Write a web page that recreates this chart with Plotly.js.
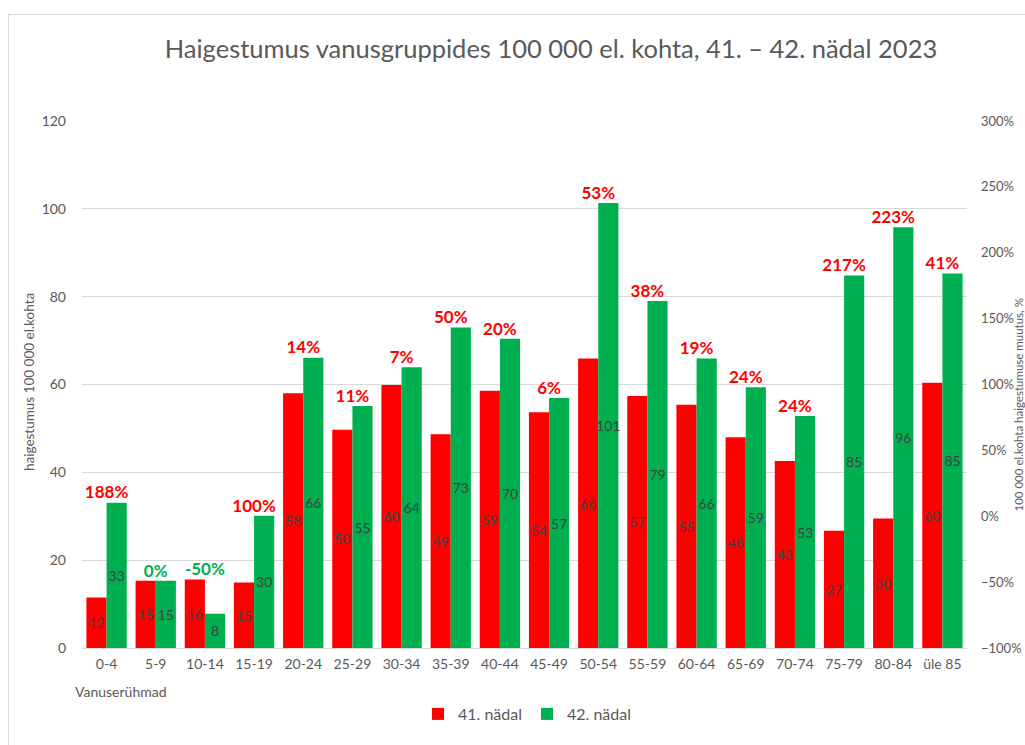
<!DOCTYPE html>
<html><head><meta charset="utf-8">
<script src="https://cdn.plot.ly/plotly-3.0.1.min.js"></script>
<style>
html,body{margin:0;padding:0;overflow:hidden;background:#fff;}
#frame{position:absolute;left:8px;top:14px;width:1200px;height:900px;border:1px solid #d9d9d9;}
#chart{position:absolute;left:0;top:0;width:1025px;height:745px;}
</style></head><body>
<div id="frame"></div>
<div id="chart"></div>
<script>
const ageGroups = ["0-4","5-9","10-14","15-19","20-24","25-29","30-34","35-39","40-44","45-49","50-54","55-59","60-64","65-69","70-74","75-79","80-84","üle 85"];
const week41 = [11.5, 15.3, 15.6, 14.9, 58.0, 49.7, 59.9, 48.7, 58.6, 53.7, 65.9, 57.4, 55.4, 48.0, 42.6, 26.7, 29.5, 60.4];
const week42 = [33.1, 15.3, 7.8, 30.1, 66.1, 55.1, 63.9, 73.0, 70.4, 56.9, 101.3, 79.0, 65.9, 59.4, 52.8, 84.8, 95.8, 85.3];
const changePct = [188, 0, -50, 100, 14, 11, 7, 50, 20, 6, 53, 38, 19, 24, 24, 217, 223, 41];
const seriesNames = ["41. nädal", "42. nädal"];

const RED = "#FF0000", GREEN = "#00B050", GREY = "#595959";
const FONT = "Lato, 'Open Sans', sans-serif";

const topOfGroup = week41.map((v, i) => Math.max(v, week42[i]));
const pctText = changePct.map(p => p + "%");
const pctColor = changePct.map(p => p > 0 ? RED : GREEN);

const barCommon = {
  type: "bar",
  x: ageGroups,
  texttemplate: "%{y:.0f}",
  textposition: "inside",
  insidetextanchor: "middle",
  constraintext: "none",
  textangle: 0,
  textfont: {family: FONT, size: 14, color: "#404040"},
  hoverinfo: "x+y"
};

const traces = [
  Object.assign({}, barCommon, {name: seriesNames[0], y: week41, marker: {color: RED, line: {width: 0}}}),
  Object.assign({}, barCommon, {name: seriesNames[1], y: week42, marker: {color: GREEN, line: {width: 0}}}),
  {
    type: "scatter", mode: "text", x: ageGroups, y: topOfGroup,
    text: pctText, textposition: "top center",
    textfont: {family: FONT, size: 17, color: pctColor, weight: "bold"},
    showlegend: false, hoverinfo: "skip", cliponaxis: false
  },
  {
    type: "scatter", mode: "markers", x: ageGroups, y: changePct.map(p => p / 100),
    yaxis: "y2", marker: {opacity: 0, size: 1}, showlegend: false, hoverinfo: "skip"
  }
];

const W = 1025, H = 745, L = 82, R = 58, T = 121, B = 97;
const pw = W - L - R, ph = H - T - B;
const px = x => (x - L) / pw;
const py = y => (H - B - y) / ph;

const layout = {
  width: W, height: H,
  margin: {l: L, r: R, t: T, b: B, pad: 0},
  paper_bgcolor: "rgba(0,0,0,0)",
  plot_bgcolor: "rgba(0,0,0,0)",
  font: {family: FONT, color: GREY, size: 14},
  title: {
    text: "Haigestumus vanusgruppides 100 000 el. kohta, 41. – 42. nädal 2023",
    font: {family: FONT, size: 25.5, color: GREY},
    xref: "container", yref: "container",
    x: 551 / W, xanchor: "center", y: 1 - 49 / H, yanchor: "middle"
  },
  barmode: "group",
  bargap: 0.18,
  bargroupgap: 0,
  xaxis: {
    type: "category", range: [-0.5, ageGroups.length - 0.5],
    showgrid: false, zeroline: false, showline: false,
    ticks: "", tickfont: {family: FONT, size: 14, color: GREY},
    ticklabelstandoff: 6
  },
  yaxis: {
    range: [0, 120], dtick: 20,
    showgrid: true, gridcolor: "#D9D9D9", gridwidth: 1,
    zeroline: true, zerolinecolor: "#D9D9D9", zerolinewidth: 1,
    showline: false, ticks: "",
    tickfont: {family: FONT, size: 14, color: GREY},
    ticklabelstandoff: 15
  },
  yaxis2: {
    overlaying: "y", side: "right",
    range: [-1, 3], dtick: 0.5, tickformat: ".0%",
    showgrid: false, zeroline: false, showline: false, ticks: "",
    tickfont: {family: FONT, size: 13, color: GREY},
    ticklabelstandoff: 13
  },
  legend: {
    orientation: "h", x: px(527), xanchor: "center", y: py(714), yanchor: "middle",
    font: {family: FONT, size: 16, color: GREY},
    itemwidth: 30, tracegroupgap: 0
  },
  annotations: [
    {text: "haigestumus 100 000 el.kohta", textangle: -90, showarrow: false,
     xref: "paper", yref: "paper", x: px(29), y: py(382), xanchor: "center", yanchor: "middle",
     font: {family: FONT, size: 13.5, color: GREY}},
    {text: "Vanuserühmad", showarrow: false,
     xref: "paper", yref: "paper", x: px(73), y: py(691), xanchor: "left", yanchor: "middle",
     font: {family: FONT, size: 14, color: GREY}},
    {text: "100 000 el.kohta haigestumuse muutus, %", textangle: -90, showarrow: false,
     xref: "paper", yref: "paper", x: px(1018.5), y: py(405), xanchor: "center", yanchor: "middle",
     font: {family: FONT, size: 11.5, color: GREY}}
  ],
  hovermode: false
};

Plotly.newPlot("chart", traces, layout, {displayModeBar: false, staticPlot: true});
</script>
</body></html>
